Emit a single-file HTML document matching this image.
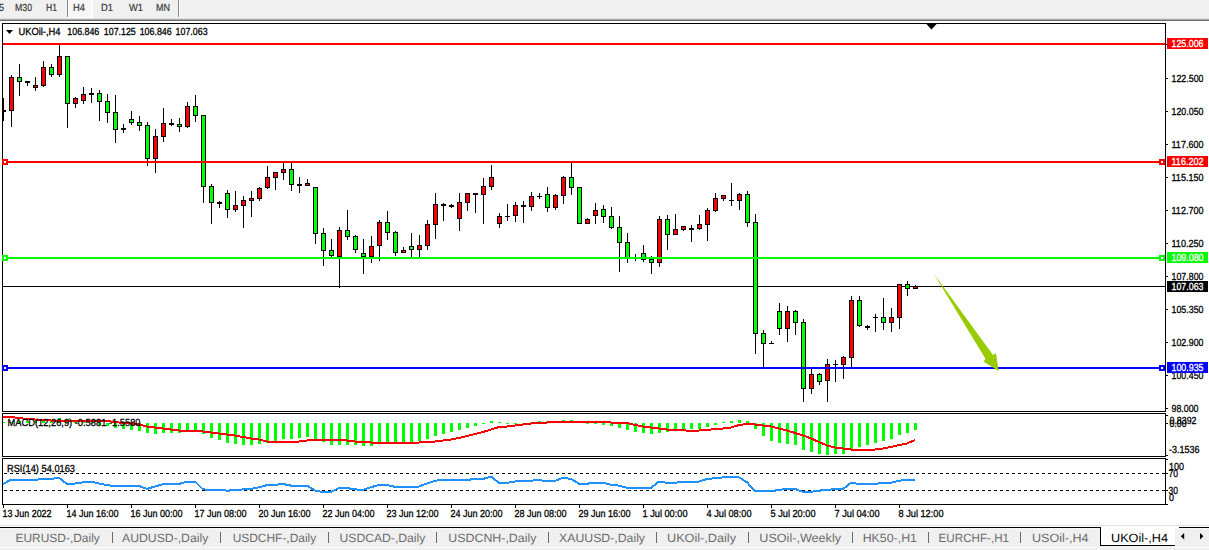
<!DOCTYPE html>
<html><head><meta charset="utf-8"><style>
html,body{margin:0;padding:0;width:1209px;height:550px;overflow:hidden;background:#fff}
text{font-family:"Liberation Sans",sans-serif;text-rendering:geometricPrecision}
.tb{font-size:10.3px;fill:#3a3a3a;stroke:#3a3a3a;stroke-width:0.2px}
.ax{font-size:10.3px;fill:#000;stroke:#000;stroke-width:0.3px}
.tl{font-size:10.3px}
.tab{font-size:12px;fill:#6d6d6d}
.act{fill:#000}
</style></head><body>
<svg width="1209" height="550" viewBox="0 0 1209 550" style="position:absolute;left:0;top:0;display:block">
<rect x="0" y="0" width="1209" height="18" fill="#f0f0f0"/>
<rect x="0" y="18" width="1209" height="1" fill="#e0e0e0"/>
<rect x="0" y="19" width="1209" height="1" fill="#a8a8a8"/>
<rect x="0" y="20" width="1209" height="1" fill="#707070"/>
<rect x="67" y="0" width="1" height="17" fill="#8a8a8a"/>
<rect x="68" y="0" width="24" height="17" fill="#f7f7f7"/>
<rect x="67" y="17" width="26" height="1" fill="#ffffff"/>
<rect x="92" y="0" width="1" height="17" fill="#ffffff"/>
<rect x="178" y="0" width="1" height="17" fill="#8a8a8a"/>
<rect x="179" y="0" width="1" height="17" fill="#ffffff"/>
<text x="-1" y="11" textLength="5" lengthAdjust="spacingAndGlyphs" class="tb">5</text>
<text x="15" y="11" textLength="17" lengthAdjust="spacingAndGlyphs" class="tb">M30</text>
<text x="46" y="11" textLength="11" lengthAdjust="spacingAndGlyphs" class="tb">H1</text>
<text x="73" y="11" textLength="12" lengthAdjust="spacingAndGlyphs" class="tb">H4</text>
<text x="101" y="11" textLength="12" lengthAdjust="spacingAndGlyphs" class="tb">D1</text>
<text x="129" y="11" textLength="14" lengthAdjust="spacingAndGlyphs" class="tb">W1</text>
<text x="156" y="11" textLength="14" lengthAdjust="spacingAndGlyphs" class="tb">MN</text>
<defs><clipPath id="cm"><rect x="3" y="24" width="1162" height="387"/></clipPath><clipPath id="cd"><rect x="3" y="414" width="1162" height="42"/></clipPath><clipPath id="cr"><rect x="3" y="459" width="1162" height="45"/></clipPath></defs>
<g clip-path="url(#cm)">
<rect x="3" y="286" width="1162" height="1" fill="#000000"/>
<rect x="3" y="98" width="1" height="23" fill="#000"/>
<rect x="1" y="110" width="5" height="2" fill="#000"/>
<rect x="11" y="75" width="1" height="52" fill="#000"/>
<rect x="9" y="77" width="5" height="34" fill="#000"/>
<rect x="10" y="78" width="3" height="32" fill="#ff0000"/>
<rect x="19" y="64" width="1" height="32" fill="#000"/>
<rect x="17" y="77" width="5" height="5" fill="#000"/>
<rect x="18" y="78" width="3" height="3" fill="#00ff00"/>
<rect x="27" y="81" width="1" height="5" fill="#000"/>
<rect x="25" y="81" width="5" height="2" fill="#000"/>
<rect x="35" y="77" width="1" height="14" fill="#000"/>
<rect x="33" y="85" width="5" height="3" fill="#000"/>
<rect x="34" y="86" width="3" height="1" fill="#ff0000"/>
<rect x="43" y="61" width="1" height="26" fill="#000"/>
<rect x="41" y="67" width="5" height="19" fill="#000"/>
<rect x="42" y="68" width="3" height="17" fill="#ff0000"/>
<rect x="51" y="64" width="1" height="13" fill="#000"/>
<rect x="49" y="67" width="5" height="8" fill="#000"/>
<rect x="50" y="68" width="3" height="6" fill="#00ff00"/>
<rect x="59" y="45" width="1" height="32" fill="#000"/>
<rect x="57" y="56" width="5" height="19" fill="#000"/>
<rect x="58" y="57" width="3" height="17" fill="#ff0000"/>
<rect x="67" y="56" width="1" height="72" fill="#000"/>
<rect x="65" y="56" width="5" height="48" fill="#000"/>
<rect x="66" y="57" width="3" height="46" fill="#00ff00"/>
<rect x="75" y="97" width="1" height="11" fill="#000"/>
<rect x="73" y="98" width="5" height="6" fill="#000"/>
<rect x="74" y="99" width="3" height="4" fill="#ff0000"/>
<rect x="83" y="87" width="1" height="17" fill="#000"/>
<rect x="81" y="94" width="5" height="7" fill="#000"/>
<rect x="82" y="95" width="3" height="5" fill="#ff0000"/>
<rect x="91" y="88" width="1" height="15" fill="#000"/>
<rect x="89" y="93" width="5" height="2" fill="#000"/>
<rect x="99" y="90" width="1" height="31" fill="#000"/>
<rect x="97" y="93" width="5" height="9" fill="#000"/>
<rect x="98" y="94" width="3" height="7" fill="#00ff00"/>
<rect x="107" y="94" width="1" height="29" fill="#000"/>
<rect x="105" y="101" width="5" height="12" fill="#000"/>
<rect x="106" y="102" width="3" height="10" fill="#00ff00"/>
<rect x="115" y="95" width="1" height="48" fill="#000"/>
<rect x="113" y="112" width="5" height="18" fill="#000"/>
<rect x="114" y="113" width="3" height="16" fill="#00ff00"/>
<rect x="123" y="124" width="1" height="9" fill="#000"/>
<rect x="121" y="128" width="5" height="2" fill="#000"/>
<rect x="131" y="111" width="1" height="14" fill="#000"/>
<rect x="129" y="119" width="5" height="4" fill="#000"/>
<rect x="130" y="120" width="3" height="2" fill="#00ff00"/>
<rect x="139" y="116" width="1" height="15" fill="#000"/>
<rect x="137" y="122" width="5" height="4" fill="#000"/>
<rect x="138" y="123" width="3" height="2" fill="#00ff00"/>
<rect x="147" y="122" width="1" height="44" fill="#000"/>
<rect x="145" y="125" width="5" height="34" fill="#000"/>
<rect x="146" y="126" width="3" height="32" fill="#00ff00"/>
<rect x="155" y="129" width="1" height="44" fill="#000"/>
<rect x="153" y="136" width="5" height="23" fill="#000"/>
<rect x="154" y="137" width="3" height="21" fill="#ff0000"/>
<rect x="163" y="108" width="1" height="34" fill="#000"/>
<rect x="161" y="123" width="5" height="14" fill="#000"/>
<rect x="162" y="124" width="3" height="12" fill="#ff0000"/>
<rect x="171" y="119" width="1" height="7" fill="#000"/>
<rect x="169" y="123" width="5" height="2" fill="#000"/>
<rect x="179" y="118" width="1" height="14" fill="#000"/>
<rect x="177" y="124" width="5" height="3" fill="#000"/>
<rect x="178" y="125" width="3" height="1" fill="#00ff00"/>
<rect x="187" y="102" width="1" height="26" fill="#000"/>
<rect x="185" y="106" width="5" height="21" fill="#000"/>
<rect x="186" y="107" width="3" height="19" fill="#ff0000"/>
<rect x="195" y="95" width="1" height="27" fill="#000"/>
<rect x="193" y="106" width="5" height="10" fill="#000"/>
<rect x="194" y="107" width="3" height="8" fill="#00ff00"/>
<rect x="203" y="115" width="1" height="88" fill="#000"/>
<rect x="201" y="115" width="5" height="72" fill="#000"/>
<rect x="202" y="116" width="3" height="70" fill="#00ff00"/>
<rect x="211" y="184" width="1" height="40" fill="#000"/>
<rect x="209" y="186" width="5" height="17" fill="#000"/>
<rect x="210" y="187" width="3" height="15" fill="#00ff00"/>
<rect x="219" y="201" width="1" height="7" fill="#000"/>
<rect x="217" y="202" width="5" height="2" fill="#000"/>
<rect x="227" y="190" width="1" height="28" fill="#000"/>
<rect x="225" y="193" width="5" height="17" fill="#000"/>
<rect x="226" y="194" width="3" height="15" fill="#00ff00"/>
<rect x="235" y="191" width="1" height="21" fill="#000"/>
<rect x="233" y="205" width="5" height="5" fill="#000"/>
<rect x="234" y="206" width="3" height="3" fill="#ff0000"/>
<rect x="243" y="196" width="1" height="32" fill="#000"/>
<rect x="241" y="200" width="5" height="6" fill="#000"/>
<rect x="242" y="201" width="3" height="4" fill="#ff0000"/>
<rect x="251" y="191" width="1" height="26" fill="#000"/>
<rect x="249" y="198" width="5" height="3" fill="#000"/>
<rect x="250" y="199" width="3" height="1" fill="#ff0000"/>
<rect x="259" y="187" width="1" height="14" fill="#000"/>
<rect x="257" y="188" width="5" height="11" fill="#000"/>
<rect x="258" y="189" width="3" height="9" fill="#ff0000"/>
<rect x="267" y="166" width="1" height="23" fill="#000"/>
<rect x="265" y="177" width="5" height="11" fill="#000"/>
<rect x="266" y="178" width="3" height="9" fill="#ff0000"/>
<rect x="275" y="172" width="1" height="18" fill="#000"/>
<rect x="273" y="172" width="5" height="6" fill="#000"/>
<rect x="274" y="173" width="3" height="4" fill="#ff0000"/>
<rect x="283" y="163" width="1" height="17" fill="#000"/>
<rect x="281" y="169" width="5" height="4" fill="#000"/>
<rect x="282" y="170" width="3" height="2" fill="#ff0000"/>
<rect x="291" y="162" width="1" height="29" fill="#000"/>
<rect x="289" y="169" width="5" height="16" fill="#000"/>
<rect x="290" y="170" width="3" height="14" fill="#00ff00"/>
<rect x="299" y="177" width="1" height="16" fill="#000"/>
<rect x="297" y="184" width="5" height="2" fill="#000"/>
<rect x="307" y="179" width="1" height="7" fill="#000"/>
<rect x="305" y="183" width="5" height="3" fill="#000"/>
<rect x="306" y="184" width="3" height="1" fill="#ff0000"/>
<rect x="315" y="187" width="1" height="57" fill="#000"/>
<rect x="313" y="187" width="5" height="47" fill="#000"/>
<rect x="314" y="188" width="3" height="45" fill="#00ff00"/>
<rect x="323" y="228" width="1" height="38" fill="#000"/>
<rect x="321" y="233" width="5" height="18" fill="#000"/>
<rect x="322" y="234" width="3" height="16" fill="#00ff00"/>
<rect x="331" y="239" width="1" height="18" fill="#000"/>
<rect x="329" y="250" width="5" height="6" fill="#000"/>
<rect x="330" y="251" width="3" height="4" fill="#00ff00"/>
<rect x="339" y="227" width="1" height="61" fill="#000"/>
<rect x="337" y="230" width="5" height="27" fill="#000"/>
<rect x="338" y="231" width="3" height="25" fill="#ff0000"/>
<rect x="347" y="210" width="1" height="30" fill="#000"/>
<rect x="345" y="230" width="5" height="7" fill="#000"/>
<rect x="346" y="231" width="3" height="5" fill="#00ff00"/>
<rect x="355" y="235" width="1" height="18" fill="#000"/>
<rect x="353" y="236" width="5" height="14" fill="#000"/>
<rect x="354" y="237" width="3" height="12" fill="#00ff00"/>
<rect x="363" y="239" width="1" height="35" fill="#000"/>
<rect x="361" y="253" width="5" height="4" fill="#000"/>
<rect x="362" y="254" width="3" height="2" fill="#00ff00"/>
<rect x="371" y="236" width="1" height="27" fill="#000"/>
<rect x="369" y="246" width="5" height="11" fill="#000"/>
<rect x="370" y="247" width="3" height="9" fill="#ff0000"/>
<rect x="379" y="220" width="1" height="41" fill="#000"/>
<rect x="377" y="222" width="5" height="24" fill="#000"/>
<rect x="378" y="223" width="3" height="22" fill="#ff0000"/>
<rect x="387" y="211" width="1" height="29" fill="#000"/>
<rect x="385" y="222" width="5" height="11" fill="#000"/>
<rect x="386" y="223" width="3" height="9" fill="#00ff00"/>
<rect x="395" y="231" width="1" height="25" fill="#000"/>
<rect x="393" y="232" width="5" height="21" fill="#000"/>
<rect x="394" y="233" width="3" height="19" fill="#00ff00"/>
<rect x="403" y="247" width="1" height="6" fill="#000"/>
<rect x="401" y="250" width="5" height="3" fill="#000"/>
<rect x="402" y="251" width="3" height="1" fill="#ff0000"/>
<rect x="411" y="233" width="1" height="25" fill="#000"/>
<rect x="409" y="246" width="5" height="4" fill="#000"/>
<rect x="410" y="247" width="3" height="2" fill="#00ff00"/>
<rect x="419" y="235" width="1" height="23" fill="#000"/>
<rect x="417" y="245" width="5" height="5" fill="#000"/>
<rect x="418" y="246" width="3" height="3" fill="#ff0000"/>
<rect x="427" y="220" width="1" height="30" fill="#000"/>
<rect x="425" y="224" width="5" height="22" fill="#000"/>
<rect x="426" y="225" width="3" height="20" fill="#ff0000"/>
<rect x="435" y="193" width="1" height="46" fill="#000"/>
<rect x="433" y="204" width="5" height="21" fill="#000"/>
<rect x="434" y="205" width="3" height="19" fill="#ff0000"/>
<rect x="443" y="203" width="1" height="18" fill="#000"/>
<rect x="441" y="204" width="5" height="2" fill="#000"/>
<rect x="451" y="204" width="1" height="4" fill="#000"/>
<rect x="449" y="205" width="5" height="2" fill="#000"/>
<rect x="459" y="193" width="1" height="38" fill="#000"/>
<rect x="457" y="202" width="5" height="17" fill="#000"/>
<rect x="458" y="203" width="3" height="15" fill="#ff0000"/>
<rect x="467" y="193" width="1" height="18" fill="#000"/>
<rect x="465" y="193" width="5" height="10" fill="#000"/>
<rect x="466" y="194" width="3" height="8" fill="#ff0000"/>
<rect x="475" y="193" width="1" height="20" fill="#000"/>
<rect x="473" y="193" width="5" height="2" fill="#000"/>
<rect x="483" y="178" width="1" height="46" fill="#000"/>
<rect x="481" y="186" width="5" height="9" fill="#000"/>
<rect x="482" y="187" width="3" height="7" fill="#ff0000"/>
<rect x="491" y="165" width="1" height="25" fill="#000"/>
<rect x="489" y="177" width="5" height="10" fill="#000"/>
<rect x="490" y="178" width="3" height="8" fill="#ff0000"/>
<rect x="499" y="213" width="1" height="15" fill="#000"/>
<rect x="497" y="216" width="5" height="8" fill="#000"/>
<rect x="498" y="217" width="3" height="6" fill="#ff0000"/>
<rect x="507" y="204" width="1" height="17" fill="#000"/>
<rect x="505" y="216" width="5" height="1" fill="#000"/>
<rect x="515" y="202" width="1" height="20" fill="#000"/>
<rect x="513" y="205" width="5" height="11" fill="#000"/>
<rect x="514" y="206" width="3" height="9" fill="#ff0000"/>
<rect x="523" y="201" width="1" height="22" fill="#000"/>
<rect x="521" y="205" width="5" height="2" fill="#000"/>
<rect x="531" y="192" width="1" height="19" fill="#000"/>
<rect x="529" y="196" width="5" height="11" fill="#000"/>
<rect x="530" y="197" width="3" height="9" fill="#ff0000"/>
<rect x="539" y="193" width="1" height="6" fill="#000"/>
<rect x="537" y="196" width="5" height="1" fill="#000"/>
<rect x="547" y="187" width="1" height="25" fill="#000"/>
<rect x="545" y="194" width="5" height="14" fill="#000"/>
<rect x="546" y="195" width="3" height="12" fill="#00ff00"/>
<rect x="555" y="194" width="1" height="16" fill="#000"/>
<rect x="553" y="195" width="5" height="13" fill="#000"/>
<rect x="554" y="196" width="3" height="11" fill="#ff0000"/>
<rect x="563" y="176" width="1" height="28" fill="#000"/>
<rect x="561" y="177" width="5" height="19" fill="#000"/>
<rect x="562" y="178" width="3" height="17" fill="#ff0000"/>
<rect x="571" y="161" width="1" height="34" fill="#000"/>
<rect x="569" y="177" width="5" height="11" fill="#000"/>
<rect x="570" y="178" width="3" height="9" fill="#00ff00"/>
<rect x="579" y="187" width="1" height="37" fill="#000"/>
<rect x="577" y="187" width="5" height="37" fill="#000"/>
<rect x="578" y="188" width="3" height="35" fill="#00ff00"/>
<rect x="587" y="218" width="1" height="6" fill="#000"/>
<rect x="585" y="219" width="5" height="5" fill="#000"/>
<rect x="586" y="220" width="3" height="3" fill="#ff0000"/>
<rect x="595" y="203" width="1" height="21" fill="#000"/>
<rect x="593" y="210" width="5" height="6" fill="#000"/>
<rect x="594" y="211" width="3" height="4" fill="#ff0000"/>
<rect x="603" y="205" width="1" height="18" fill="#000"/>
<rect x="601" y="209" width="5" height="8" fill="#000"/>
<rect x="602" y="210" width="3" height="6" fill="#00ff00"/>
<rect x="611" y="207" width="1" height="22" fill="#000"/>
<rect x="609" y="216" width="5" height="12" fill="#000"/>
<rect x="610" y="217" width="3" height="10" fill="#00ff00"/>
<rect x="619" y="216" width="1" height="56" fill="#000"/>
<rect x="617" y="227" width="5" height="16" fill="#000"/>
<rect x="618" y="228" width="3" height="14" fill="#00ff00"/>
<rect x="627" y="233" width="1" height="30" fill="#000"/>
<rect x="625" y="242" width="5" height="17" fill="#000"/>
<rect x="626" y="243" width="3" height="15" fill="#00ff00"/>
<rect x="635" y="254" width="1" height="7" fill="#000"/>
<rect x="633" y="257" width="5" height="2" fill="#000"/>
<rect x="643" y="245" width="1" height="17" fill="#000"/>
<rect x="641" y="253" width="5" height="7" fill="#000"/>
<rect x="642" y="254" width="3" height="5" fill="#00ff00"/>
<rect x="651" y="256" width="1" height="18" fill="#000"/>
<rect x="649" y="259" width="5" height="4" fill="#000"/>
<rect x="650" y="260" width="3" height="2" fill="#00ff00"/>
<rect x="659" y="216" width="1" height="51" fill="#000"/>
<rect x="657" y="219" width="5" height="44" fill="#000"/>
<rect x="658" y="220" width="3" height="42" fill="#ff0000"/>
<rect x="667" y="215" width="1" height="35" fill="#000"/>
<rect x="665" y="219" width="5" height="16" fill="#000"/>
<rect x="666" y="220" width="3" height="14" fill="#00ff00"/>
<rect x="675" y="214" width="1" height="21" fill="#000"/>
<rect x="673" y="229" width="5" height="6" fill="#000"/>
<rect x="674" y="230" width="3" height="4" fill="#ff0000"/>
<rect x="683" y="226" width="1" height="5" fill="#000"/>
<rect x="681" y="226" width="5" height="4" fill="#000"/>
<rect x="682" y="227" width="3" height="2" fill="#ff0000"/>
<rect x="691" y="225" width="1" height="17" fill="#000"/>
<rect x="689" y="228" width="5" height="2" fill="#000"/>
<rect x="699" y="215" width="1" height="15" fill="#000"/>
<rect x="697" y="224" width="5" height="5" fill="#000"/>
<rect x="698" y="225" width="3" height="3" fill="#ff0000"/>
<rect x="707" y="208" width="1" height="33" fill="#000"/>
<rect x="705" y="210" width="5" height="15" fill="#000"/>
<rect x="706" y="211" width="3" height="13" fill="#ff0000"/>
<rect x="715" y="193" width="1" height="19" fill="#000"/>
<rect x="713" y="198" width="5" height="13" fill="#000"/>
<rect x="714" y="199" width="3" height="11" fill="#ff0000"/>
<rect x="723" y="195" width="1" height="6" fill="#000"/>
<rect x="721" y="195" width="5" height="4" fill="#000"/>
<rect x="722" y="196" width="3" height="2" fill="#ff0000"/>
<rect x="731" y="183" width="1" height="23" fill="#000"/>
<rect x="729" y="200" width="5" height="1" fill="#000"/>
<rect x="739" y="193" width="1" height="17" fill="#000"/>
<rect x="737" y="194" width="5" height="7" fill="#000"/>
<rect x="738" y="195" width="3" height="5" fill="#ff0000"/>
<rect x="747" y="191" width="1" height="36" fill="#000"/>
<rect x="745" y="194" width="5" height="29" fill="#000"/>
<rect x="746" y="195" width="3" height="27" fill="#00ff00"/>
<rect x="755" y="214" width="1" height="140" fill="#000"/>
<rect x="753" y="222" width="5" height="112" fill="#000"/>
<rect x="754" y="223" width="3" height="110" fill="#00ff00"/>
<rect x="763" y="330" width="1" height="38" fill="#000"/>
<rect x="761" y="333" width="5" height="11" fill="#000"/>
<rect x="762" y="334" width="3" height="9" fill="#00ff00"/>
<rect x="771" y="341" width="1" height="3" fill="#000"/>
<rect x="769" y="343" width="5" height="1" fill="#000"/>
<rect x="779" y="303" width="1" height="32" fill="#000"/>
<rect x="777" y="311" width="5" height="18" fill="#000"/>
<rect x="778" y="312" width="3" height="16" fill="#00ff00"/>
<rect x="787" y="306" width="1" height="36" fill="#000"/>
<rect x="785" y="311" width="5" height="18" fill="#000"/>
<rect x="786" y="312" width="3" height="16" fill="#ff0000"/>
<rect x="795" y="310" width="1" height="25" fill="#000"/>
<rect x="793" y="311" width="5" height="12" fill="#000"/>
<rect x="794" y="312" width="3" height="10" fill="#00ff00"/>
<rect x="803" y="319" width="1" height="83" fill="#000"/>
<rect x="801" y="322" width="5" height="67" fill="#000"/>
<rect x="802" y="323" width="3" height="65" fill="#00ff00"/>
<rect x="811" y="369" width="1" height="25" fill="#000"/>
<rect x="809" y="374" width="5" height="15" fill="#000"/>
<rect x="810" y="375" width="3" height="13" fill="#ff0000"/>
<rect x="819" y="373" width="1" height="12" fill="#000"/>
<rect x="817" y="374" width="5" height="8" fill="#000"/>
<rect x="818" y="375" width="3" height="6" fill="#00ff00"/>
<rect x="827" y="359" width="1" height="43" fill="#000"/>
<rect x="825" y="364" width="5" height="17" fill="#000"/>
<rect x="826" y="365" width="3" height="15" fill="#ff0000"/>
<rect x="835" y="360" width="1" height="22" fill="#000"/>
<rect x="833" y="364" width="5" height="1" fill="#000"/>
<rect x="843" y="356" width="1" height="23" fill="#000"/>
<rect x="841" y="357" width="5" height="8" fill="#000"/>
<rect x="842" y="358" width="3" height="6" fill="#ff0000"/>
<rect x="851" y="296" width="1" height="71" fill="#000"/>
<rect x="849" y="300" width="5" height="58" fill="#000"/>
<rect x="850" y="301" width="3" height="56" fill="#ff0000"/>
<rect x="859" y="296" width="1" height="31" fill="#000"/>
<rect x="857" y="300" width="5" height="26" fill="#000"/>
<rect x="858" y="301" width="3" height="24" fill="#00ff00"/>
<rect x="867" y="325" width="1" height="5" fill="#000"/>
<rect x="865" y="326" width="5" height="2" fill="#000"/>
<rect x="875" y="314" width="1" height="18" fill="#000"/>
<rect x="873" y="317" width="5" height="1" fill="#000"/>
<rect x="883" y="298" width="1" height="32" fill="#000"/>
<rect x="881" y="317" width="5" height="6" fill="#000"/>
<rect x="882" y="318" width="3" height="4" fill="#00ff00"/>
<rect x="891" y="308" width="1" height="24" fill="#000"/>
<rect x="889" y="317" width="5" height="6" fill="#000"/>
<rect x="890" y="318" width="3" height="4" fill="#ff0000"/>
<rect x="899" y="284" width="1" height="45" fill="#000"/>
<rect x="897" y="284" width="5" height="34" fill="#000"/>
<rect x="898" y="285" width="3" height="32" fill="#ff0000"/>
<rect x="907" y="281" width="1" height="15" fill="#000"/>
<rect x="905" y="284" width="5" height="5" fill="#000"/>
<rect x="906" y="285" width="3" height="3" fill="#00ff00"/>
<rect x="915" y="285" width="1" height="4" fill="#000"/>
<rect x="913" y="286" width="5" height="3" fill="#000"/>
<rect x="914" y="287" width="3" height="1" fill="#ff0000"/>
<rect x="3" y="43" width="1162" height="2" fill="#ff0000"/>
<rect x="3" y="161" width="1162" height="2" fill="#ff0000"/>
<rect x="3" y="257" width="1162" height="2" fill="#00ff00"/>
<rect x="3" y="367" width="1162" height="2" fill="#0000ff"/>
<rect x="1159" y="159" width="6" height="6" fill="#ff0000"/>
<rect x="1161" y="161" width="2" height="2" fill="#fff"/>
<rect x="1159" y="255" width="6" height="6" fill="#00ff00"/>
<rect x="1161" y="257" width="2" height="2" fill="#fff"/>
<rect x="1159" y="365" width="6" height="6" fill="#0000ff"/>
<rect x="1161" y="367" width="2" height="2" fill="#fff"/>
<polygon points="934,274 993,355 996,353 998.6,371 983.4,361.6 985.6,359" fill="#99cc00"/>
<polygon points="925.5,23 937.5,23 931.5,29.5" fill="#000"/>
</g>
<rect x="2" y="23" width="1164" height="1" fill="#000"/>
<rect x="2" y="411" width="1164" height="1" fill="#000"/>
<rect x="2" y="23" width="1" height="389" fill="#000"/>
<rect x="1165" y="23" width="1" height="389" fill="#000"/>
<rect x="2" y="159" width="6" height="6" fill="#ff0000"/>
<rect x="4" y="161" width="2" height="2" fill="#fff"/>
<rect x="2" y="255" width="6" height="6" fill="#00ff00"/>
<rect x="4" y="257" width="2" height="2" fill="#fff"/>
<rect x="2" y="365" width="6" height="6" fill="#0000ff"/>
<rect x="4" y="367" width="2" height="2" fill="#fff"/>
<polygon points="6,30 13,30 9.5,34" fill="#000"/>
<text x="18.5" y="35" textLength="42" lengthAdjust="spacingAndGlyphs" class="ax">UKOil-,H4</text>
<text x="67.3" y="35" textLength="32" lengthAdjust="spacingAndGlyphs" class="ax">106.846</text>
<text x="103.8" y="35" textLength="32" lengthAdjust="spacingAndGlyphs" class="ax">107.125</text>
<text x="139.7" y="35" textLength="32" lengthAdjust="spacingAndGlyphs" class="ax">106.846</text>
<text x="175.6" y="35" textLength="32" lengthAdjust="spacingAndGlyphs" class="ax">107.063</text>
<rect x="1166" y="78" width="2" height="1" fill="#000"/>
<text x="1171.5" y="82" textLength="32" lengthAdjust="spacingAndGlyphs" class="ax">122.500</text>
<rect x="1166" y="111" width="2" height="1" fill="#000"/>
<text x="1171.5" y="115" textLength="32" lengthAdjust="spacingAndGlyphs" class="ax">120.050</text>
<rect x="1166" y="144" width="2" height="1" fill="#000"/>
<text x="1171.5" y="148" textLength="32" lengthAdjust="spacingAndGlyphs" class="ax">117.600</text>
<rect x="1166" y="177" width="2" height="1" fill="#000"/>
<text x="1171.5" y="181" textLength="32" lengthAdjust="spacingAndGlyphs" class="ax">115.150</text>
<rect x="1166" y="210" width="2" height="1" fill="#000"/>
<text x="1171.5" y="214" textLength="32" lengthAdjust="spacingAndGlyphs" class="ax">112.700</text>
<rect x="1166" y="243" width="2" height="1" fill="#000"/>
<text x="1171.5" y="247" textLength="32" lengthAdjust="spacingAndGlyphs" class="ax">110.250</text>
<rect x="1166" y="276" width="2" height="1" fill="#000"/>
<text x="1171.5" y="280" textLength="32" lengthAdjust="spacingAndGlyphs" class="ax">107.800</text>
<rect x="1166" y="309" width="2" height="1" fill="#000"/>
<text x="1171.5" y="313" textLength="32" lengthAdjust="spacingAndGlyphs" class="ax">105.350</text>
<rect x="1166" y="342" width="2" height="1" fill="#000"/>
<text x="1171.5" y="346" textLength="32" lengthAdjust="spacingAndGlyphs" class="ax">102.900</text>
<rect x="1166" y="375" width="2" height="1" fill="#000"/>
<text x="1171.5" y="379" textLength="32" lengthAdjust="spacingAndGlyphs" class="ax">100.450</text>
<rect x="1166" y="408" width="2" height="1" fill="#000"/>
<text x="1171.5" y="412" textLength="27" lengthAdjust="spacingAndGlyphs" class="ax">98.000</text>
<rect x="1166" y="44" width="2" height="1" fill="#000"/>
<rect x="1167" y="38" width="41" height="11" fill="#ff0000"/>
<text x="1171.5" y="47" textLength="32" lengthAdjust="spacingAndGlyphs" class="ax" style="fill:#fff;stroke:#fff">125.006</text>
<rect x="1167" y="156" width="41" height="11" fill="#ff0000"/>
<text x="1171.5" y="165" textLength="32" lengthAdjust="spacingAndGlyphs" class="ax" style="fill:#fff;stroke:#fff">116.202</text>
<rect x="1167" y="252" width="41" height="11" fill="#00ff00"/>
<text x="1171.5" y="261" textLength="32" lengthAdjust="spacingAndGlyphs" class="ax" style="fill:#fff;stroke:#fff">109.080</text>
<rect x="1167" y="281" width="41" height="11" fill="#000000"/>
<text x="1171.5" y="290" textLength="32" lengthAdjust="spacingAndGlyphs" class="ax" style="fill:#fff;stroke:#fff">107.063</text>
<rect x="1167" y="362" width="41" height="11" fill="#0000ff"/>
<text x="1171.5" y="371" textLength="32" lengthAdjust="spacingAndGlyphs" class="ax" style="fill:#fff;stroke:#fff">100.935</text>
<g clip-path="url(#cd)">
<rect x="2" y="422" width="3" height="1" fill="#00ff00"/>
<rect x="10" y="422" width="3" height="1" fill="#00ff00"/>
<rect x="18" y="421" width="3" height="2" fill="#00ff00"/>
<rect x="26" y="421" width="3" height="2" fill="#00ff00"/>
<rect x="34" y="421" width="3" height="2" fill="#00ff00"/>
<rect x="42" y="421" width="3" height="2" fill="#00ff00"/>
<rect x="50" y="420" width="3" height="3" fill="#00ff00"/>
<rect x="58" y="418" width="3" height="5" fill="#00ff00"/>
<rect x="66" y="419" width="3" height="4" fill="#00ff00"/>
<rect x="74" y="421" width="3" height="2" fill="#00ff00"/>
<rect x="82" y="422" width="3" height="1" fill="#00ff00"/>
<rect x="90" y="423" width="3" height="1" fill="#00ff00"/>
<rect x="98" y="423" width="3" height="2" fill="#00ff00"/>
<rect x="106" y="423" width="3" height="3" fill="#00ff00"/>
<rect x="114" y="423" width="3" height="5" fill="#00ff00"/>
<rect x="122" y="423" width="3" height="6" fill="#00ff00"/>
<rect x="130" y="423" width="3" height="7" fill="#00ff00"/>
<rect x="138" y="423" width="3" height="8" fill="#00ff00"/>
<rect x="146" y="423" width="3" height="10" fill="#00ff00"/>
<rect x="154" y="423" width="3" height="11" fill="#00ff00"/>
<rect x="162" y="423" width="3" height="10" fill="#00ff00"/>
<rect x="170" y="423" width="3" height="10" fill="#00ff00"/>
<rect x="178" y="423" width="3" height="10" fill="#00ff00"/>
<rect x="186" y="423" width="3" height="7" fill="#00ff00"/>
<rect x="194" y="423" width="3" height="7" fill="#00ff00"/>
<rect x="202" y="423" width="3" height="11" fill="#00ff00"/>
<rect x="210" y="423" width="3" height="15" fill="#00ff00"/>
<rect x="218" y="423" width="3" height="17" fill="#00ff00"/>
<rect x="226" y="423" width="3" height="20" fill="#00ff00"/>
<rect x="234" y="423" width="3" height="21" fill="#00ff00"/>
<rect x="242" y="423" width="3" height="22" fill="#00ff00"/>
<rect x="250" y="423" width="3" height="22" fill="#00ff00"/>
<rect x="258" y="423" width="3" height="21" fill="#00ff00"/>
<rect x="266" y="423" width="3" height="20" fill="#00ff00"/>
<rect x="274" y="423" width="3" height="18" fill="#00ff00"/>
<rect x="282" y="423" width="3" height="16" fill="#00ff00"/>
<rect x="290" y="423" width="3" height="16" fill="#00ff00"/>
<rect x="298" y="423" width="3" height="15" fill="#00ff00"/>
<rect x="306" y="423" width="3" height="14" fill="#00ff00"/>
<rect x="314" y="423" width="3" height="17" fill="#00ff00"/>
<rect x="322" y="423" width="3" height="19" fill="#00ff00"/>
<rect x="330" y="423" width="3" height="22" fill="#00ff00"/>
<rect x="338" y="423" width="3" height="22" fill="#00ff00"/>
<rect x="346" y="423" width="3" height="22" fill="#00ff00"/>
<rect x="354" y="423" width="3" height="22" fill="#00ff00"/>
<rect x="362" y="423" width="3" height="23" fill="#00ff00"/>
<rect x="370" y="423" width="3" height="23" fill="#00ff00"/>
<rect x="378" y="423" width="3" height="20" fill="#00ff00"/>
<rect x="386" y="423" width="3" height="20" fill="#00ff00"/>
<rect x="394" y="423" width="3" height="20" fill="#00ff00"/>
<rect x="402" y="423" width="3" height="20" fill="#00ff00"/>
<rect x="410" y="423" width="3" height="20" fill="#00ff00"/>
<rect x="418" y="423" width="3" height="18" fill="#00ff00"/>
<rect x="426" y="423" width="3" height="16" fill="#00ff00"/>
<rect x="434" y="423" width="3" height="13" fill="#00ff00"/>
<rect x="442" y="423" width="3" height="11" fill="#00ff00"/>
<rect x="450" y="423" width="3" height="9" fill="#00ff00"/>
<rect x="458" y="423" width="3" height="7" fill="#00ff00"/>
<rect x="466" y="423" width="3" height="5" fill="#00ff00"/>
<rect x="474" y="423" width="3" height="3" fill="#00ff00"/>
<rect x="482" y="423" width="3" height="1" fill="#00ff00"/>
<rect x="490" y="421" width="3" height="2" fill="#00ff00"/>
<rect x="498" y="422" width="3" height="1" fill="#00ff00"/>
<rect x="506" y="423" width="3" height="1" fill="#00ff00"/>
<rect x="514" y="423" width="3" height="1" fill="#00ff00"/>
<rect x="522" y="423" width="3" height="1" fill="#00ff00"/>
<rect x="530" y="422" width="3" height="1" fill="#00ff00"/>
<rect x="538" y="421" width="3" height="2" fill="#00ff00"/>
<rect x="546" y="421" width="3" height="2" fill="#00ff00"/>
<rect x="554" y="421" width="3" height="2" fill="#00ff00"/>
<rect x="562" y="420" width="3" height="3" fill="#00ff00"/>
<rect x="570" y="420" width="3" height="3" fill="#00ff00"/>
<rect x="578" y="421" width="3" height="2" fill="#00ff00"/>
<rect x="586" y="423" width="3" height="1" fill="#00ff00"/>
<rect x="594" y="423" width="3" height="1" fill="#00ff00"/>
<rect x="602" y="423" width="3" height="2" fill="#00ff00"/>
<rect x="610" y="423" width="3" height="3" fill="#00ff00"/>
<rect x="618" y="423" width="3" height="5" fill="#00ff00"/>
<rect x="626" y="423" width="3" height="7" fill="#00ff00"/>
<rect x="634" y="423" width="3" height="9" fill="#00ff00"/>
<rect x="642" y="423" width="3" height="10" fill="#00ff00"/>
<rect x="650" y="423" width="3" height="11" fill="#00ff00"/>
<rect x="658" y="423" width="3" height="10" fill="#00ff00"/>
<rect x="666" y="423" width="3" height="9" fill="#00ff00"/>
<rect x="674" y="423" width="3" height="7" fill="#00ff00"/>
<rect x="682" y="423" width="3" height="7" fill="#00ff00"/>
<rect x="690" y="423" width="3" height="6" fill="#00ff00"/>
<rect x="698" y="423" width="3" height="6" fill="#00ff00"/>
<rect x="706" y="423" width="3" height="4" fill="#00ff00"/>
<rect x="714" y="423" width="3" height="2" fill="#00ff00"/>
<rect x="722" y="422" width="3" height="1" fill="#00ff00"/>
<rect x="730" y="421" width="3" height="2" fill="#00ff00"/>
<rect x="738" y="420" width="3" height="3" fill="#00ff00"/>
<rect x="746" y="421" width="3" height="2" fill="#00ff00"/>
<rect x="754" y="423" width="3" height="6" fill="#00ff00"/>
<rect x="762" y="423" width="3" height="13" fill="#00ff00"/>
<rect x="770" y="423" width="3" height="18" fill="#00ff00"/>
<rect x="778" y="423" width="3" height="20" fill="#00ff00"/>
<rect x="786" y="423" width="3" height="21" fill="#00ff00"/>
<rect x="794" y="423" width="3" height="22" fill="#00ff00"/>
<rect x="802" y="423" width="3" height="27" fill="#00ff00"/>
<rect x="810" y="423" width="3" height="29" fill="#00ff00"/>
<rect x="818" y="423" width="3" height="31" fill="#00ff00"/>
<rect x="826" y="423" width="3" height="32" fill="#00ff00"/>
<rect x="834" y="423" width="3" height="31" fill="#00ff00"/>
<rect x="842" y="423" width="3" height="31" fill="#00ff00"/>
<rect x="850" y="423" width="3" height="26" fill="#00ff00"/>
<rect x="858" y="423" width="3" height="24" fill="#00ff00"/>
<rect x="866" y="423" width="3" height="22" fill="#00ff00"/>
<rect x="874" y="423" width="3" height="20" fill="#00ff00"/>
<rect x="882" y="423" width="3" height="18" fill="#00ff00"/>
<rect x="890" y="423" width="3" height="16" fill="#00ff00"/>
<rect x="898" y="423" width="3" height="12" fill="#00ff00"/>
<rect x="906" y="423" width="3" height="10" fill="#00ff00"/>
<rect x="914" y="423" width="3" height="7" fill="#00ff00"/>
<polyline points="3,416.5 11,417.0 19,418.0 27,419.0 35,419.5 43,420.0 51,420.5 59,420.5 67,420.5 75,420.5 83,420.5 91,420.5 99,420.5 107,421.0 115,422.0 123,423.0 131,423.5 139,424.5 147,426.5 155,427.5 163,428.5 171,429.5 179,430.5 187,431.0 195,431.0 203,431.5 211,432.5 219,433.5 227,434.5 235,435.5 243,437.0 251,438.5 259,439.5 267,441.5 275,442.0 283,442.0 291,442.0 299,441.5 307,440.5 315,440.0 323,440.0 331,439.5 339,439.5 347,440.5 355,441.5 363,442.0 371,442.5 379,443.0 387,443.0 395,443.0 403,443.0 411,443.0 419,442.5 427,442.0 435,441.5 443,440.5 451,439.5 459,438.0 467,436.0 475,434.0 483,432.0 491,429.5 499,427.0 507,426.5 515,425.5 523,424.5 531,423.5 539,423.0 547,422.5 555,422.0 563,422.0 571,422.0 579,422.0 587,422.0 595,422.0 603,422.0 611,422.5 619,422.5 627,423.0 635,425.0 643,426.5 651,427.5 659,428.5 667,429.5 675,429.8 683,430.3 691,430.8 699,430.5 707,429.8 715,429.2 723,428.5 731,427.5 739,425.0 747,424.0 755,424.5 763,425.5 771,426.5 779,428.5 787,430.5 795,433.0 803,435.5 811,438.5 819,442.0 827,445.5 835,447.5 843,448.5 851,449.5 859,449.8 867,449.8 875,449.5 883,448.5 891,447.0 899,445.0 907,443.5 915,440.0" fill="none" stroke="#ff0000" stroke-width="2" shape-rendering="crispEdges"/>
</g>
<text x="7.5" y="426" textLength="133" lengthAdjust="spacingAndGlyphs" class="ax">MACD(12,26,9) -0.5881 -1.5580</text>
<rect x="2" y="413" width="1164" height="1" fill="#000"/>
<rect x="2" y="456" width="1164" height="1" fill="#000"/>
<rect x="2" y="413" width="1" height="44" fill="#000"/>
<rect x="1165" y="413" width="1" height="44" fill="#000"/>
<rect x="1166" y="415" width="2" height="1" fill="#000"/>
<rect x="1166" y="423" width="2" height="1" fill="#000"/>
<rect x="1166" y="455" width="2" height="1" fill="#000"/>
<text x="1169.5" y="424" textLength="27" lengthAdjust="spacingAndGlyphs" class="ax">0.8392</text>
<text x="1169.5" y="427" textLength="17" lengthAdjust="spacingAndGlyphs" class="ax">0.00</text>
<text x="1169" y="453" textLength="30.5" lengthAdjust="spacingAndGlyphs" class="ax">-3.1536</text>
<g clip-path="url(#cr)">
<text x="7" y="471.5" textLength="68" lengthAdjust="spacingAndGlyphs" class="ax">RSI(14) 54.0163</text>
<line x1="4" y1="473.5" x2="1165" y2="473.5" stroke="#000" stroke-width="1" stroke-dasharray="3,3"/>
<line x1="4" y1="490.5" x2="1165" y2="490.5" stroke="#000" stroke-width="1" stroke-dasharray="3,3"/>
<polyline points="3,484.0 11,479.8 19,479.8 27,479.8 35,479.8 43,479.0 51,479.0 59,477.7 67,484.0 75,483.5 83,482.3 91,481.5 99,483.5 107,485.0 115,486.4 123,486.4 131,485.6 139,486.0 147,489.0 155,486.4 163,484.3 171,484.0 179,484.0 187,481.5 195,481.5 203,489.4 211,489.8 219,490.0 227,490.6 235,490.3 243,489.4 251,489.0 259,487.3 267,485.1 275,484.8 283,484.0 291,485.6 299,485.6 307,485.6 315,490.6 323,492.0 331,492.0 339,488.1 347,488.1 355,489.4 363,489.8 371,487.3 379,484.8 387,485.1 395,486.8 403,486.8 411,486.8 419,486.5 427,483.5 435,480.7 443,479.9 451,479.9 459,479.9 467,479.9 475,479.0 483,479.0 491,476.5 499,482.8 507,482.8 515,481.5 523,480.7 531,480.7 539,479.9 547,481.5 555,481.0 563,477.7 571,479.0 579,483.7 587,483.7 595,482.7 603,482.7 611,484.8 619,485.6 627,487.8 635,487.8 643,487.8 651,487.8 659,481.5 667,482.8 675,482.8 683,481.5 691,481.5 699,481.5 707,479.0 715,478.2 723,477.4 731,477.4 739,477.4 747,482.3 755,491.4 763,491.4 771,491.4 779,489.8 787,489.0 795,489.0 803,491.8 811,491.8 819,490.6 827,490.1 835,489.0 843,489.0 851,482.7 859,484.0 867,484.0 875,484.0 883,482.7 891,482.7 899,480.7 907,479.9 915,479.9" fill="none" stroke="#1e90ff" stroke-width="2" shape-rendering="crispEdges"/>
</g>
<rect x="2" y="458" width="1164" height="1" fill="#000"/>
<rect x="2" y="504" width="1164" height="1" fill="#000"/>
<rect x="2" y="458" width="1" height="47" fill="#000"/>
<rect x="1165" y="458" width="1" height="47" fill="#000"/>
<rect x="1166" y="459" width="2" height="1" fill="#000"/>
<rect x="1166" y="473" width="2" height="1" fill="#000"/>
<rect x="1166" y="490" width="2" height="1" fill="#000"/>
<rect x="1166" y="504" width="2" height="1" fill="#000"/>
<text x="1169" y="470" textLength="15" lengthAdjust="spacingAndGlyphs" class="ax">100</text>
<text x="1168.5" y="477" textLength="9.5" lengthAdjust="spacingAndGlyphs" class="ax">70</text>
<text x="1168.5" y="494" textLength="9.5" lengthAdjust="spacingAndGlyphs" class="ax">30</text>
<text x="1169" y="501" textLength="5" lengthAdjust="spacingAndGlyphs" class="ax">0</text>
<rect x="3" y="505" width="1" height="3" fill="#000"/>
<text x="2.5" y="517" textLength="49" lengthAdjust="spacingAndGlyphs" class="ax tl">13 Jun 2022</text>
<rect x="67" y="505" width="1" height="3" fill="#000"/>
<text x="66.5" y="517" textLength="52" lengthAdjust="spacingAndGlyphs" class="ax tl">14 Jun 16:00</text>
<rect x="131" y="505" width="1" height="3" fill="#000"/>
<text x="130.5" y="517" textLength="52" lengthAdjust="spacingAndGlyphs" class="ax tl">16 Jun 00:00</text>
<rect x="195" y="505" width="1" height="3" fill="#000"/>
<text x="194.5" y="517" textLength="52" lengthAdjust="spacingAndGlyphs" class="ax tl">17 Jun 08:00</text>
<rect x="259" y="505" width="1" height="3" fill="#000"/>
<text x="258.5" y="517" textLength="52" lengthAdjust="spacingAndGlyphs" class="ax tl">20 Jun 16:00</text>
<rect x="323" y="505" width="1" height="3" fill="#000"/>
<text x="322.5" y="517" textLength="52" lengthAdjust="spacingAndGlyphs" class="ax tl">22 Jun 04:00</text>
<rect x="387" y="505" width="1" height="3" fill="#000"/>
<text x="386.5" y="517" textLength="52" lengthAdjust="spacingAndGlyphs" class="ax tl">23 Jun 12:00</text>
<rect x="451" y="505" width="1" height="3" fill="#000"/>
<text x="450.5" y="517" textLength="52" lengthAdjust="spacingAndGlyphs" class="ax tl">24 Jun 20:00</text>
<rect x="515" y="505" width="1" height="3" fill="#000"/>
<text x="514.5" y="517" textLength="52" lengthAdjust="spacingAndGlyphs" class="ax tl">28 Jun 08:00</text>
<rect x="579" y="505" width="1" height="3" fill="#000"/>
<text x="578.5" y="517" textLength="52" lengthAdjust="spacingAndGlyphs" class="ax tl">29 Jun 16:00</text>
<rect x="643" y="505" width="1" height="3" fill="#000"/>
<text x="642.5" y="517" textLength="45" lengthAdjust="spacingAndGlyphs" class="ax tl">1 Jul 00:00</text>
<rect x="707" y="505" width="1" height="3" fill="#000"/>
<text x="706.5" y="517" textLength="45" lengthAdjust="spacingAndGlyphs" class="ax tl">4 Jul 08:00</text>
<rect x="771" y="505" width="1" height="3" fill="#000"/>
<text x="770.5" y="517" textLength="45" lengthAdjust="spacingAndGlyphs" class="ax tl">5 Jul 20:00</text>
<rect x="835" y="505" width="1" height="3" fill="#000"/>
<text x="834.5" y="517" textLength="45" lengthAdjust="spacingAndGlyphs" class="ax tl">7 Jul 04:00</text>
<rect x="899" y="505" width="1" height="3" fill="#000"/>
<text x="898.5" y="517" textLength="45" lengthAdjust="spacingAndGlyphs" class="ax tl">8 Jul 12:00</text>
<rect x="0" y="525" width="1209" height="1" fill="#e3e3e3"/>
<rect x="0" y="527" width="1209" height="1" fill="#000"/>
<rect x="0" y="528" width="1209" height="22" fill="#f0f0f0"/>
<rect x="0" y="528" width="1209" height="1" fill="#f7f7f7"/>
<rect x="0" y="547" width="1209" height="1" fill="#fbfbfb"/>
<text x="15.5" y="542" textLength="84.3" lengthAdjust="spacingAndGlyphs" class="tab">EURUSD-,Daily</text>
<text x="122" y="542" textLength="86.3" lengthAdjust="spacingAndGlyphs" class="tab">AUDUSD-,Daily</text>
<text x="232.7" y="542" textLength="83.5" lengthAdjust="spacingAndGlyphs" class="tab">USDCHF-,Daily</text>
<text x="339.5" y="542" textLength="85.8" lengthAdjust="spacingAndGlyphs" class="tab">USDCAD-,Daily</text>
<text x="448.3" y="542" textLength="88.1" lengthAdjust="spacingAndGlyphs" class="tab">USDCNH-,Daily</text>
<text x="559" y="542" textLength="86" lengthAdjust="spacingAndGlyphs" class="tab">XAUUSD-,Daily</text>
<text x="667" y="542" textLength="69" lengthAdjust="spacingAndGlyphs" class="tab">UKOil-,Daily</text>
<text x="759.3" y="542" textLength="81.7" lengthAdjust="spacingAndGlyphs" class="tab">USOil-,Weekly</text>
<text x="862.7" y="542" textLength="54.3" lengthAdjust="spacingAndGlyphs" class="tab">HK50-,H1</text>
<text x="938.6" y="542" textLength="70.4" lengthAdjust="spacingAndGlyphs" class="tab">EURCHF-,H1</text>
<text x="1032" y="542" textLength="56.5" lengthAdjust="spacingAndGlyphs" class="tab">USOil-,H4</text>
<rect x="112" y="532" width="1" height="11" fill="#6a6a6a"/>
<rect x="220" y="532" width="1" height="11" fill="#6a6a6a"/>
<rect x="328" y="532" width="1" height="11" fill="#6a6a6a"/>
<rect x="436" y="532" width="1" height="11" fill="#6a6a6a"/>
<rect x="548" y="532" width="1" height="11" fill="#6a6a6a"/>
<rect x="656" y="532" width="1" height="11" fill="#6a6a6a"/>
<rect x="748" y="532" width="1" height="11" fill="#6a6a6a"/>
<rect x="852" y="532" width="1" height="11" fill="#6a6a6a"/>
<rect x="928" y="532" width="1" height="11" fill="#6a6a6a"/>
<rect x="1020" y="532" width="1" height="11" fill="#6a6a6a"/>
<rect x="1101" y="526" width="74" height="19" fill="#ffffff"/>
<rect x="1100" y="527" width="1" height="19" fill="#000"/>
<rect x="1100" y="545" width="75" height="1" fill="#000"/>
<text x="1111" y="542" textLength="57" lengthAdjust="spacingAndGlyphs" class="tab act">UKOil-,H4</text>
<rect x="1175" y="526" width="4" height="2" fill="#ffffff"/>
<polygon points="1184.2,533 1184.2,539.6 1180.8,536.3" fill="#000"/>
<polygon points="1200,533 1200,539.6 1203.4,536.3" fill="#000"/>
</svg>
</body></html>
